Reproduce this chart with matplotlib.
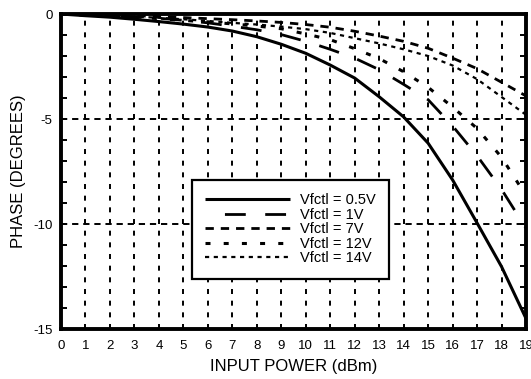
import matplotlib
matplotlib.use("Agg")
import matplotlib.pyplot as plt
import numpy as np

plt.rcParams['font.family'] = ['Liberation Sans', 'DejaVu Sans']
plt.rcParams['lines.scale_dashes'] = False
plt.rcParams['axes.unicode_minus'] = False

power = list(range(20))
phase_05v = [0, -0.08, -0.15, -0.25, -0.36, -0.48, -0.62, -0.81, -1.08, -1.44,
             -1.87, -2.43, -3.05, -3.94, -4.9, -6.15, -7.9, -9.95, -12.03, -14.5]
phase_1v = [0, -0.05, -0.1, -0.15, -0.2, -0.3, -0.42, -0.58, -0.75, -0.98,
            -1.3, -1.68, -2.1, -2.65, -3.35, -4.08, -5.33, -6.75, -8.35, -10.2]
phase_7v = [0, -0.02, -0.05, -0.08, -0.12, -0.17, -0.22, -0.27, -0.33, -0.4,
            -0.5, -0.63, -0.82, -1.05, -1.3, -1.63, -2.1, -2.6, -3.25, -3.9]
phase_12v = [0, -0.05, -0.1, -0.15, -0.22, -0.3, -0.38, -0.47, -0.57, -0.7,
             -0.95, -1.22, -1.65, -2.12, -2.75, -3.49, -4.43, -5.45, -6.82, -8.65]
phase_14v = [0, -0.03, -0.07, -0.12, -0.18, -0.25, -0.33, -0.42, -0.5, -0.6,
             -0.72, -0.9, -1.15, -1.4, -1.68, -2.0, -2.45, -3.1, -3.95, -4.8]
labels = ['Vfctl = 0.5V', 'Vfctl = 1V', 'Vfctl = 7V', 'Vfctl = 12V', 'Vfctl = 14V']

fig = plt.figure(figsize=(5.31, 3.79), dpi=100)
ax = fig.add_axes([0.1149, 0.1319, 0.8757, 0.8311])

# dash patterns in points (scale_dashes off)
styles = [
    dict(ls='-', lw=2.2),
    dict(ls=(15, (15, 14)), lw=2.0),
    dict(ls=(0, (6, 5)), lw=2.0),
    dict(ls=(0, (3.6, 9.5)), lw=2.2),
    dict(ls=(0, (3.0, 3.3)), lw=1.6),
]
series = [phase_05v, phase_1v, phase_7v, phase_12v, phase_14v]
for vals, lab, st in zip(series, labels, styles):
    ax.plot(power, vals, color='black', label=lab, solid_capstyle='butt',
            dash_capstyle='butt', zorder=3, **st)

ax.set_xlim(0, 19)
ax.set_ylim(-15, 0)
ax.set_xticks(range(20))
ax.set_yticks([0, -5, -10, -15])
ax.set_yticks(range(-15, 1), minor=True)

# grid: dotted verticals at every dBm, dashed horizontals at -5 and -10
for x in range(1, 19):
    ax.axvline(x, color='black', lw=1.4, ls=(0, (3.6, 4.8)), zorder=1)
for y in (-5, -10):
    ax.axhline(y, color='black', lw=1.4, ls=(0, (4.5, 3.5)), zorder=1)

for s in ax.spines.values():
    s.set_linewidth(2.8)
ax.tick_params(axis='x', length=0, pad=8, labelsize=9.5)
ax.tick_params(axis='y', which='both', direction='in', left=True, right=True,
               length=4, width=1.4, pad=6, labelsize=9.5)

ax.set_xlabel('INPUT POWER (dBm)', fontsize=12, labelpad=5)
ax.set_ylabel('PHASE (DEGREES)', fontsize=12, labelpad=5)

leg = ax.legend(loc='upper left', bbox_to_anchor=(0.2817, 0.473), fontsize=10.5,
                handlelength=5.8, handletextpad=0.7, labelspacing=0.04,
                borderpad=0.9, borderaxespad=0, fancybox=False, framealpha=1,
                edgecolor='black')
leg.get_frame().set_linewidth(1.6)
leg.set_zorder(5)

fig.savefig('out.png', dpi=100)
